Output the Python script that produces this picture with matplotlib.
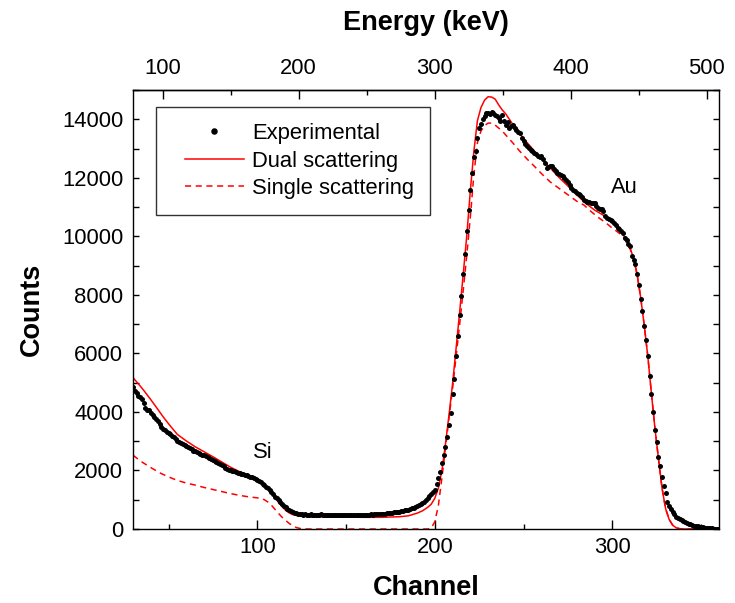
import matplotlib
matplotlib.use("Agg")
import matplotlib.pyplot as plt
from matplotlib.lines import Line2D
from matplotlib.legend_handler import HandlerLine2D
from matplotlib.ticker import MultipleLocator, FixedLocator

plt.rcParams['font.family'] = ['Liberation Sans', 'DejaVu Sans']

# measured spectrum, one value per channel (30..360)
channel = list(range(30, 361))
counts = [
    4850, 4700, 4650, 4560, 4500, 4450, 4300, 4120, 4080, 4050,   # 30-39
    3980, 3900, 3830, 3770, 3700, 3600, 3500, 3430, 3380, 3330,   # 40-49
    3280, 3240, 3180, 3130, 3080, 3020, 2975, 2940, 2900, 2860,   # 50-59
    2830, 2790, 2760, 2720, 2680, 2650, 2630, 2600, 2570, 2540,   # 60-69
    2520, 2490, 2460, 2430, 2400, 2350, 2330, 2290, 2270, 2230,   # 70-79
    2200, 2150, 2100, 2060, 2030, 2010, 1990, 1970, 1950, 1930,   # 80-89
    1910, 1890, 1870, 1850, 1830, 1810, 1790, 1770, 1750, 1720,   # 90-99
    1690, 1650, 1600, 1550, 1500, 1450, 1400, 1340, 1260, 1180,   # 100-109
    1110, 1050, 990, 920, 850, 790, 740, 690, 650, 610,           # 110-119
    580, 560, 540, 520, 510, 500, 490, 505, 480, 495,             # 120-129
    500, 485, 490, 470, 495, 480, 500, 475, 490, 485,             # 130-139
    470, 490, 480, 465, 485, 470, 480, 490, 470, 480,             # 140-149
    475, 480, 470, 485, 480, 475, 490, 480, 485, 480,             # 150-159
    490, 485, 495, 490, 500, 495, 505, 510, 500, 515,             # 160-169
    520, 525, 530, 540, 545, 550, 560, 565, 575, 585,             # 170-179
    590, 605, 620, 640, 650, 665, 690, 710, 735, 760,             # 180-189
    780, 810, 840, 880, 920, 990, 1050, 1120, 1190, 1270,         # 190-199
    1350, 1550, 1730, 1950, 2250, 2520, 2800, 3150, 3550, 3950,   # 200-209
    4600, 5130, 5900, 6600, 7300, 7950, 8700, 9400, 10200, 10900, # 210-219
    11600, 12150, 12700, 12900, 13350, 13700, 13850, 14000, 14100, 14200,  # 220-229
    14220, 14180, 14250, 14200, 14150, 14100, 14050, 13930, 14150, 13950,  # 230-239
    13820, 13900, 13700, 13780, 13820, 13700, 13640, 13580, 13530, 13350,  # 240-249
    13250, 13150, 13100, 13030, 12950, 12900, 12850, 12800, 12740, 12720,  # 250-259
    12740, 12650, 12500, 12350, 12380, 12400, 12400, 12300, 12250, 12170,  # 260-269
    12120, 12080, 12050, 12000, 11940, 11850, 11750, 11650, 11600, 11550,  # 270-279
    11490, 11450, 11400, 11330, 11250, 11200, 11180, 11160, 11150, 11150,  # 280-289
    11140, 11050, 10980, 10950, 10920, 10850, 10700, 10640, 10600, 10550,  # 290-299
    10520, 10450, 10380, 10300, 10250, 10200, 10130, 9950, 9870, 9750,     # 300-309
    9670, 9330, 9200, 9050, 8730, 8330, 7860, 7450, 6950, 6460,   # 310-319
    5900, 5220, 4620, 4000, 3370, 2970, 2450, 2150, 1780, 1460,   # 320-329
    1240, 930, 780, 700, 580, 530, 420, 380, 330, 300,            # 330-339
    260, 230, 210, 180, 160, 140, 120, 105, 90, 80,               # 340-349
    70, 60, 50, 40, 30, 25, 20, 15, 12, 10,                       # 350-359
    8,                                                            # 360
]

# simulated spectra
dual_ch = [30, 33, 36, 40, 43, 47, 51, 55, 60, 65, 70, 75, 80, 85, 90, 95,
           98, 100, 102, 104, 106, 108, 110, 112, 114, 116, 118, 120, 123,
           126, 130, 140, 150, 160, 170, 180, 185, 190, 193, 196, 198, 200,
           202, 204, 206, 208, 210, 212, 214, 216, 218, 220, 222, 224, 226,
           228, 230, 232, 234, 236, 238, 240, 244, 248, 252, 256, 260, 265,
           270, 275, 280, 285, 290, 295, 300, 303, 306, 308, 310, 312, 314,
           316, 318, 320, 322, 324, 326, 328, 330, 332, 334, 336, 338, 340,
           360]
dual = [5170, 4960, 4740, 4420, 4170, 3830, 3520, 3230, 3010, 2810, 2640,
        2470, 2290, 2110, 1960, 1800, 1720, 1660, 1590, 1490, 1370, 1220,
        1070, 910, 760, 640, 550, 490, 450, 430, 420, 410, 405, 400, 400,
        420, 450, 540, 620, 740, 850, 1050, 1400, 2000, 2900, 3900, 4960,
        6180, 7420, 8700, 10020, 11550, 12900, 13950, 14400, 14650, 14770,
        14760, 14690, 14490, 14320, 14180, 13820, 13500, 13200, 12920, 12640,
        12340, 12010, 11720, 11420, 11130, 10900, 10720, 10520, 10320, 10070,
        9850, 9600, 9250, 8700, 7900, 6950, 5900, 4650, 3450, 2400, 1400,
        700, 330, 130, 40, 10, 0, 0]

single_ch = [30, 35, 40, 45, 50, 55, 60, 65, 70, 75, 80, 85, 90, 95, 100,
             102, 104, 106, 108, 110, 112, 114, 116, 118, 120, 122, 124, 126,
             128, 196, 198, 200, 202, 204, 206, 208, 210, 212, 214, 216, 218,
             220, 222, 224, 226, 228, 230, 232, 234, 236, 238, 240, 244, 248,
             252, 256, 260, 265, 270, 275, 280, 284, 288, 292, 296, 300, 303,
             306, 308, 310, 312, 314, 316, 318, 320, 322, 324, 326, 328, 330,
             332, 334, 336, 338, 340, 360]
single = [2520, 2290, 2100, 1920, 1780, 1660, 1570, 1500, 1420, 1350, 1280,
          1210, 1150, 1100, 1065, 1050, 1000, 920, 810, 670, 530, 400, 290,
          190, 110, 50, 20, 5, 0, 0, 30, 250, 800, 1750, 2750, 3800, 4800,
          5900, 7000, 8150, 9350, 10650, 12100, 13200, 13600, 13780, 13870,
          13870, 13800, 13700, 13600, 13460, 13190, 12900, 12640, 12400,
          12150, 11860, 11640, 11420, 11200, 11070, 10850, 10650, 10480,
          10280, 10150, 10000, 9800, 9580, 9230, 8680, 7900, 6950, 5900,
          4650, 3450, 2400, 1400, 700, 330, 130, 40, 10, 0, 0]

energy_ticks = [100, 200, 300, 400, 500]
energy_minor = [150, 250, 350, 450]

# energy calibration: E = E0 + GAIN * channel
GAIN = 1.305
E0 = 39.1


def ch2e(c):
    return E0 + GAIN * c


def e2ch(e):
    return (e - E0) / GAIN


fig = plt.figure(figsize=(7.35, 6.03), dpi=100)
ax = fig.add_axes([0.181, 0.1227, 0.797, 0.728])

ax.plot(channel, counts, 'o', color='black', ms=3.6, mew=0,
        label='Experimental', zorder=3)
ax.plot(dual_ch, dual, '-', color='#ff0000', lw=1.1, label='Dual scattering')
ax.plot(single_ch, single, '--', color='#ff0000', lw=1.1, dashes=(4, 3),
        label='Single scattering')

ax.set_xlim(30, 360)
ax.set_ylim(0, 15000)
ax.xaxis.set_major_locator(MultipleLocator(100))
ax.xaxis.set_minor_locator(MultipleLocator(50))
ax.yaxis.set_major_locator(MultipleLocator(2000))
ax.yaxis.set_minor_locator(MultipleLocator(1000))
ax.tick_params(which='both', direction='in', top=False, right=True,
               labelsize=15.8, width=1.0, colors='black')
ax.tick_params(axis='x', which='major', length=6.5, pad=6)
ax.tick_params(axis='x', which='minor', length=3.5)
ax.tick_params(axis='y', which='major', length=4.5, pad=7)
ax.tick_params(axis='y', which='minor', length=4.0)
for sp in ax.spines.values():
    sp.set_linewidth(1.0)

ax.set_xlabel('Channel', fontsize=19.5, fontweight='bold')
ax.set_ylabel('Counts', fontsize=19.5, fontweight='bold')
ax.xaxis.set_label_coords(0.5, -0.105)
ax.yaxis.set_label_coords(-0.15, 0.5)

secax = ax.secondary_xaxis('top', functions=(ch2e, e2ch))
secax.xaxis.set_major_locator(FixedLocator(energy_ticks))
secax.xaxis.set_minor_locator(FixedLocator(energy_minor))
secax.tick_params(which='both', direction='in', labelsize=15.8, width=1.0)
secax.tick_params(which='major', length=6.5, pad=8)
secax.tick_params(which='minor', length=3.5)
secax.spines['top'].set_linewidth(1.0)
secax.set_xlabel('Energy (keV)', fontsize=19.5, fontweight='bold', labelpad=20)

ax.text(103, 2620, 'Si', fontsize=15.8, ha='center', va='center')
ax.text(307, 11680, 'Au', fontsize=15.8, ha='center', va='center')

# shift the legend handles right, away from the frame edge
leg = ax.legend(loc='upper left', bbox_to_anchor=(0.039, 0.961),
                borderaxespad=0, fontsize=15.8, frameon=True, fancybox=False,
                edgecolor='black', handlelength=3.3, handletextpad=0.36,
                labelspacing=0.3, borderpad=0.72, markerscale=1.3,
                numpoints=1,
                handler_map={Line2D: HandlerLine2D(xpad=0.6)})
leg.get_frame().set_linewidth(1.0)

fig.savefig('out.png', dpi=100)
